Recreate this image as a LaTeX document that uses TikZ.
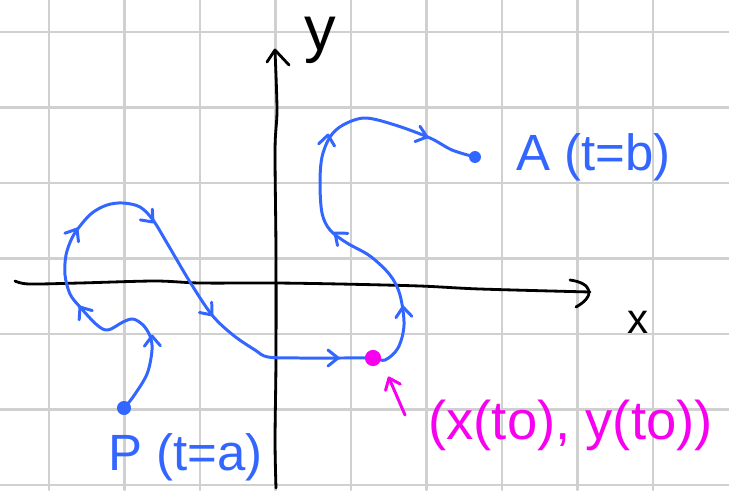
\documentclass[tikz,border=0pt]{standalone}
\usepackage{fontspec}
\setmainfont{Liberation Sans}
\definecolor{penblue}{HTML}{3366FF}
\definecolor{penmag}{HTML}{F700F0}
\definecolor{gridgray}{HTML}{D0D0D0}
\begin{document}
\begin{tikzpicture}[x=0.02cm,y=-0.02cm, line cap=round, line join=round,
  gridline/.style={gridgray, line width=1.2pt},
  axisline/.style={black, line width=1.6pt},
  curveline/.style={penblue, line width=1.7pt},
  magline/.style={penmag, line width=1.7pt},
  chev/.pic={\draw (-10,8) -- (0,0) -- (-10,-8);},
  hand/.style={inner sep=0pt, font=\fontsize{29}{32}\selectfont}]
\fill[white] (0,0) rectangle (729,490);
\useasboundingbox (0,0) rectangle (729,490);
% grid
\foreach \gx in {49,124.5,200,275.5,351,426.5,502,577.5,653}
  \draw[gridline] (\gx,0) -- (\gx,490);
\foreach \gy in {32,107.5,183,258.5,334,409.5,485}
  \draw[gridline] (0,\gy) -- (729,\gy);
% axes
\coordinate (xstart) at (15,281);
\coordinate (xend) at (590,292);
\coordinate (ystart) at (276,488);
\coordinate (yend) at (275,51);
\draw[axisline] plot[smooth, tension=0.5] coordinates {(xstart) (29,284) (80,283) (155,281) (200,283) (275,283) (340,284) (420,286) (480,289) (xend)};
\draw[axisline] (570,280) .. controls (592,283) and (596,296) .. (576,307);
\draw[axisline] plot[smooth, tension=0.5] coordinates {(ystart) (275,440) (276,360) (276,250) (275,150) (277,110) (yend)};
\draw[axisline] (267,62) -- (275,50) -- (289,65);
\node[hand, anchor=base, font=\fontsize{36}{40}\selectfont] (ylabel) at (320,50) {y};
\node[hand, anchor=base, font=\fontsize{24}{28}\selectfont] (xlabel) at (638,333) {x};
% points
\coordinate (P) at (124,408);
\coordinate (A) at (475,157);
\coordinate (T0) at (373,358);
% curve
\draw[curveline] plot[smooth, tension=0.55] coordinates {
  (P) (133,397) (147,374) (152,350) (150,336) (143,325) (133,319) (123,322) (108,330) (97,325)
  (80,307) (70,294) (65,275) (66,255) (72,238) (80,226) (92,213) (107,205) (123,203) (140,207)
  (153,220) (167,243) (190,282) (212,315) (233,335) (255,350) (268,357) (300,358) (340,358)
  (T0) (385,360) (398,348) (404,325) (400,295) (390,275) (370,256) (347,243) (330,230)
  (322,213) (320,183) (322,157) (330,137) (343,125) (365,118) (395,125) (430,138) (452,150) (A)};
\fill[penblue] (P) circle[radius=4pt];
\fill[penblue] (A) circle[radius=3.4pt];
\fill[penmag] (T0) circle[radius=4.6pt];
% direction marks
\begin{scope}[penblue, line width=1.7pt]
\pic[rotate=92] at (152,336) {chev};
\pic[rotate=125] at (80,307) {chev};
\pic[rotate=58] at (77,229) {chev};
\pic[rotate=-48] at (153,222) {chev};
\pic[rotate=-50] at (212,315) {chev};
\pic[rotate=0] at (338,358) {chev};
\pic[rotate=95] at (403,307) {chev};
\pic[rotate=140] at (335,233) {chev};
\pic[rotate=82] at (328,135) {chev};
\pic[rotate=-18] at (427,137) {chev};
\end{scope}
% labels
\node[hand, penblue, anchor=west] (Alabel) at (516,157) {A (t=b)};
\node[hand, penblue, anchor=west] (Plabel) at (108,457) {P (t=a)};
\coordinate (marrowtail) at (405,415);
\coordinate (marrowtip) at (389,378);
\draw[magline] (marrowtail) -- (marrowtip);
\pic[penmag, line width=1.7pt, rotate=113] at (marrowtip) {chev};
\node[hand, penmag, anchor=west, font=\fontsize{31}{34}\selectfont] (T0label) at (428,425) {(x(to), y(to))};
\end{tikzpicture}
\end{document}
